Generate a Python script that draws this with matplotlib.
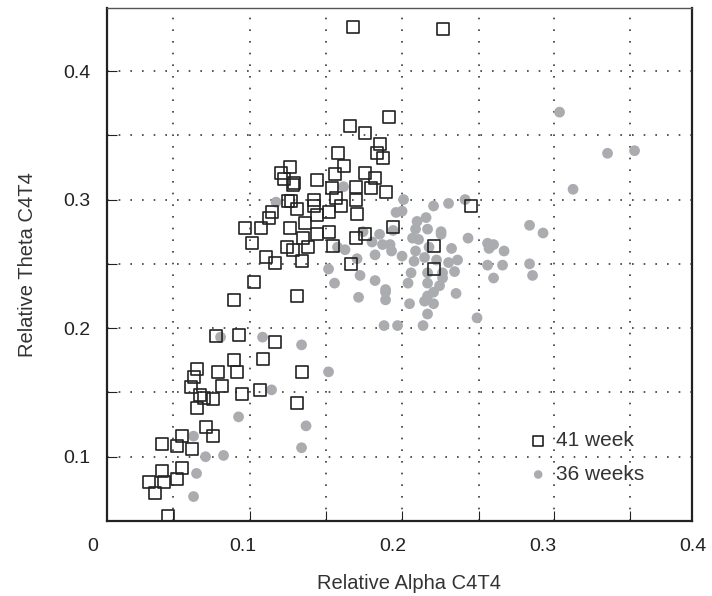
import matplotlib
matplotlib.use('Agg')
import matplotlib.pyplot as plt
from matplotlib.ticker import NullFormatter

plt.rcParams['font.family'] = ['Liberation Sans', 'DejaVu Sans']

# ── data ──────────────────────────────────────────────────────────────────────
week41_x = [0.173, 0.233, 0.197, 0.171, 0.181, 0.191, 0.189, 0.193, 0.163, 0.167,
            0.161, 0.181, 0.188, 0.131, 0.125, 0.127, 0.134, 0.133, 0.149, 0.159,
            0.175, 0.185, 0.195, 0.130, 0.132, 0.147, 0.162, 0.175, 0.136, 0.147,
            0.165, 0.119, 0.117, 0.157, 0.149, 0.176, 0.101, 0.112, 0.131, 0.141,
            0.200, 0.149, 0.157, 0.140, 0.181, 0.175, 0.106, 0.129, 0.133, 0.143,
            0.160, 0.227, 0.115, 0.121, 0.139, 0.172, 0.227, 0.107, 0.094, 0.136,
            0.252, 0.082, 0.097, 0.121, 0.113, 0.094, 0.139, 0.083, 0.096, 0.069,
            0.067, 0.065, 0.086, 0.071, 0.074, 0.080, 0.099, 0.111, 0.069, 0.136,
            0.075, 0.059, 0.080, 0.046, 0.056, 0.066, 0.046, 0.059, 0.056, 0.037,
            0.047, 0.041, 0.050]
week41_y = [0.434, 0.433, 0.364, 0.357, 0.352, 0.343, 0.336, 0.332, 0.336, 0.326,
            0.320, 0.321, 0.317, 0.325, 0.321, 0.316, 0.313, 0.311, 0.315, 0.309,
            0.310, 0.309, 0.306, 0.299, 0.299, 0.300, 0.301, 0.300, 0.293, 0.295,
            0.295, 0.290, 0.286, 0.290, 0.288, 0.289, 0.278, 0.278, 0.278, 0.282,
            0.279, 0.273, 0.275, 0.270, 0.273, 0.270, 0.266, 0.263, 0.261, 0.263,
            0.264, 0.264, 0.255, 0.251, 0.252, 0.250, 0.246, 0.236, 0.222, 0.225,
            0.295, 0.194, 0.195, 0.189, 0.176, 0.175, 0.166, 0.166, 0.166, 0.168,
            0.162, 0.154, 0.155, 0.148, 0.146, 0.145, 0.149, 0.152, 0.138, 0.142,
            0.123, 0.116, 0.116, 0.110, 0.108, 0.106, 0.089, 0.091, 0.083, 0.080,
            0.080, 0.072, 0.054]

week36_x = [0.085, 0.113, 0.139, 0.119, 0.097, 0.142, 0.067, 0.139, 0.075, 0.087,
            0.069, 0.067, 0.122, 0.167, 0.207, 0.157, 0.157, 0.161, 0.177, 0.176,
            0.178, 0.188, 0.180, 0.186, 0.163, 0.168, 0.227, 0.237, 0.248, 0.202,
            0.206, 0.216, 0.222, 0.191, 0.200, 0.215, 0.223, 0.232, 0.232, 0.213,
            0.217, 0.250, 0.188, 0.193, 0.198, 0.199, 0.206, 0.215, 0.224, 0.239,
            0.214, 0.221, 0.229, 0.237, 0.243, 0.212, 0.223, 0.233, 0.210, 0.195,
            0.195, 0.223, 0.231, 0.233, 0.227, 0.223, 0.242, 0.195, 0.211, 0.221,
            0.227, 0.223, 0.194, 0.203, 0.220, 0.311, 0.343, 0.361, 0.320, 0.291,
            0.300, 0.263, 0.267, 0.264, 0.274, 0.241, 0.263, 0.273, 0.291, 0.293,
            0.267, 0.256]
week36_y = [0.193, 0.193, 0.187, 0.152, 0.131, 0.124, 0.116, 0.107, 0.100, 0.101,
            0.087, 0.069, 0.298, 0.310, 0.300, 0.166, 0.246, 0.235, 0.224, 0.254,
            0.241, 0.237, 0.275, 0.267, 0.263, 0.261, 0.295, 0.297, 0.300, 0.290,
            0.291, 0.283, 0.286, 0.273, 0.276, 0.277, 0.277, 0.275, 0.273, 0.270,
            0.269, 0.270, 0.257, 0.265, 0.265, 0.260, 0.256, 0.260, 0.263, 0.262,
            0.252, 0.255, 0.253, 0.251, 0.253, 0.243, 0.243, 0.243, 0.235, 0.230,
            0.228, 0.235, 0.233, 0.239, 0.228, 0.225, 0.227, 0.222, 0.219, 0.221,
            0.219, 0.211, 0.202, 0.202, 0.202, 0.368, 0.336, 0.338, 0.308, 0.280,
            0.274, 0.266, 0.265, 0.262, 0.260, 0.244, 0.249, 0.249, 0.250, 0.241,
            0.239, 0.208]

series_labels = ['41 week', '36 weeks']

x_ticklabels = [0, 0.1, 0.2, 0.3, 0.4]
x_grid = [0.0533, 0.1047, 0.1553, 0.2060, 0.2570, 0.3073, 0.3580]
y_major = [0.1, 0.2, 0.3, 0.4]
y_minor = [0.15, 0.25, 0.35]

# ── styling ───────────────────────────────────────────────────────────────────
INK = '#222222'
DOT = '#3a3a3a'
GREY = '#abacaf'

fig = plt.figure(figsize=(7.12, 5.96), dpi=100)
fig.patch.set_facecolor('white')
ax = fig.add_axes([107 / 712, 75 / 596, 585 / 712, 513 / 596])

ax.scatter(week41_x, week41_y, marker='s', s=74, facecolors='none',
           edgecolors=INK, linewidths=1.2, zorder=3, label=series_labels[0])
ax.scatter(week36_x, week36_y, marker='o', s=60, color=GREY,
           edgecolors='none', zorder=2, label=series_labels[1])

ax.set_xlim(0.0093, 0.3993)
ax.set_ylim(0.05, 0.449)

# grid + ticks
ax.set_xticks(x_grid)
ax.xaxis.set_major_formatter(NullFormatter())
ax.set_yticks(y_major)
ax.set_yticks(y_minor, minor=True)
ax.set_yticklabels([f'{v:g}' for v in y_major])
ax.grid(True, which='both', linestyle=(0, (1, 6)), linewidth=1.2, color=DOT)
ax.set_axisbelow(True)
ax.tick_params(axis='x', direction='in', length=7, width=0.8, color=INK)
ax.tick_params(axis='y', which='both', direction='in', length=7, width=0.8,
               color=INK, pad=12, labelsize=14, labelcolor=INK)

# x tick labels sit on their own 0..0.4 spacing in the original
for v in x_ticklabels:
    ax.text(v, -0.034, f'{v:g}', transform=ax.get_xaxis_transform(),
            ha='center', va='top', fontsize=14, color=INK, clip_on=False)

for side in ['left', 'bottom', 'right']:
    ax.spines[side].set_linewidth(1.6)
    ax.spines[side].set_color(INK)
ax.spines['top'].set_linewidth(1.0)
ax.spines['top'].set_color('#555555')

ax.set_xlabel('Relative Alpha C4T4', fontsize=14.5, color='#333333')
ax.xaxis.set_label_coords(0.516, -0.103)
ax.set_ylabel('Relative Theta C4T4', fontsize=14.5, color='#333333')
ax.yaxis.set_label_coords(-0.12, 0.5)

leg = ax.legend(loc='upper left', bbox_to_anchor=(0.705, 0.195), frameon=False,
                fontsize=15, handlelength=0.8, handletextpad=0.45,
                labelspacing=0.7, borderpad=0, markerscale=0.8)
for t in leg.get_texts():
    t.set_color('#333333')

fig.savefig('out.png', dpi=100, facecolor='white')
